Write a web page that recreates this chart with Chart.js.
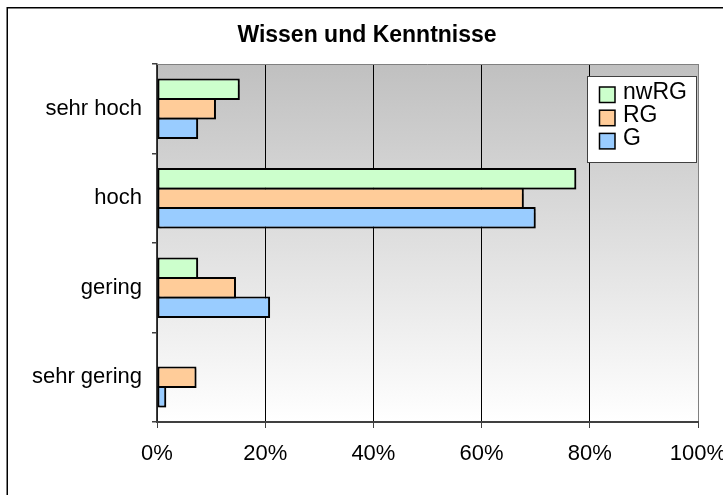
<!DOCTYPE html>
<html lang="de">
<head>
<meta charset="UTF-8">
<title>Wissen und Kenntnisse</title>
<script src="https://cdn.jsdelivr.net/npm/chart.js"></script>
<style>
  html, body { margin: 0; padding: 0; background: #fff; }
  #wrap { position: relative; width: 723px; height: 495px; overflow: hidden; }
</style>
</head>
<body>
<div id="wrap"><canvas id="grafik"></canvas></div>
<script>
// Daten
const kategorien = ['sehr hoch', 'hoch', 'gering', 'sehr gering'];
const werteNwRG = [15.3, 77.5, 7.6, 0];
const werteRG = [10.9, 67.8, 14.6, 7.3];
const werteG = [7.6, 70.0, 20.9, 1.7];
const xTicks = [0, 20, 40, 60, 80, 100];

Chart.defaults.font.family = '"Liberation Sans", Arial, sans-serif';
Chart.defaults.color = '#000';

// Hintergrund, Rahmen und Legende
const deko = {
  id: 'deko',
  beforeDraw(chart) {
    const { ctx, chartArea: a } = chart;
    const g = ctx.createLinearGradient(0, a.top, 0, a.bottom);
    g.addColorStop(0, '#c0c0c0');
    g.addColorStop(1, '#ffffff');
    ctx.save();
    ctx.fillStyle = g;
    ctx.fillRect(a.left, a.top, a.right - a.left, a.bottom - a.top);
    ctx.restore();
  },
  beforeDatasetsDraw(chart) {
    const { ctx, chartArea: a } = chart;
    ctx.save();
    ctx.strokeStyle = '#808080';
    ctx.lineWidth = 1;
    ctx.beginPath();
    ctx.moveTo(a.left, a.top + 0.5);
    ctx.lineTo(a.right, a.top + 0.5);
    ctx.stroke();
    ctx.restore();
    // leichter Schatten unter den Balken
    ctx.save();
    ctx.shadowColor = 'rgba(0,0,0,0.3)';
    ctx.shadowOffsetX = 2;
    ctx.shadowOffsetY = 2;
    ctx.shadowBlur = 1;
  },
  afterDatasetsDraw(chart) {
    const { ctx, chartArea: a } = chart;
    ctx.restore();

    // Legende oben rechts im Diagramm
    const bx = a.right - 111, by = a.top + 12, bw = 110, bh = 87;
    ctx.save();
    ctx.fillStyle = '#fff';
    ctx.fillRect(bx, by, bw, bh);
    ctx.strokeStyle = '#404040';
    ctx.lineWidth = 1;
    ctx.strokeRect(bx + 0.5, by + 0.5, bw - 1, bh - 1);
    ctx.font = '23px "Liberation Sans", Arial, sans-serif';
    ctx.textBaseline = 'alphabetic';
    chart.data.datasets.forEach((ds, i) => {
      const sy = by + 11 + i * 23.2;
      ctx.fillStyle = ds.backgroundColor;
      ctx.fillRect(bx + 12.5, sy, 15.5, 15.5);
      ctx.strokeStyle = '#000';
      ctx.lineWidth = 1.5;
      ctx.strokeRect(bx + 12.5, sy, 15.5, 15.5);
      ctx.fillStyle = '#000';
      ctx.fillText(ds.label, bx + 36, sy + 12);
    });
    ctx.restore();
  },
  afterDraw(chart) {
    const ctx = chart.ctx;
    ctx.save();
    ctx.strokeStyle = '#000';
    ctx.lineWidth = 1.5;
    ctx.strokeRect(7.25, 7.75, 900, 700);
    ctx.restore();
  }
};

const gemeinsam = {
  borderColor: '#000',
  borderWidth: 2,
  borderSkipped: false,
  categoryPercentage: 0.654,
  barPercentage: 1.1
};

new Chart(document.getElementById('grafik'), {
  type: 'bar',
  data: {
    labels: kategorien,
    datasets: [
      { label: 'nwRG', data: werteNwRG, backgroundColor: '#ccffcc', ...gemeinsam },
      { label: 'RG', data: werteRG, backgroundColor: '#ffcc99', ...gemeinsam },
      { label: 'G', data: werteG, backgroundColor: '#99ccff', ...gemeinsam }
    ]
  },
  options: {
    indexAxis: 'y',
    responsive: true,
    maintainAspectRatio: false,
    animation: false,
    layout: { padding: { left: 12, right: 1, top: 0, bottom: 0 } },
    plugins: {
      legend: { display: false },
      tooltip: { enabled: false },
      title: {
        display: true,
        text: 'Wissen und Kenntnisse',
        color: '#000',
        font: { size: 23, weight: 'bold' },
        padding: { top: 21.7, bottom: 14.7 }
      }
    },
    scales: {
      x: {
        type: 'linear',
        min: 0,
        max: 100,
        afterBuildTicks: s => { s.ticks = xTicks.map(v => ({ value: v })); },
        afterFit: s => { s.height = 73; s.paddingLeft = 0; s.paddingRight = 25; },
        ticks: { callback: v => v + '%', font: { size: 22 }, padding: 13, color: '#000' },
        grid: {
          color: c => (c.index === xTicks.length - 1 ? '#808080' : '#000'),
          lineWidth: 1,
          tickLength: 6,
          tickColor: '#404040'
        },
        border: { color: '#404040', width: 2 }
      },
      y: {
        afterFit: s => { s.width = 145; s.paddingTop = 0; s.paddingBottom = 0; },
        ticks: { font: { size: 22 }, padding: 10, color: '#000' },
        grid: {
          drawOnChartArea: false,
          tickLength: 5,
          color: '#404040',
          lineWidth: 1.5
        },
        border: { color: '#404040', width: 1.5 }
      }
    }
  },
  plugins: [deko]
});
</script>
</body>
</html>
